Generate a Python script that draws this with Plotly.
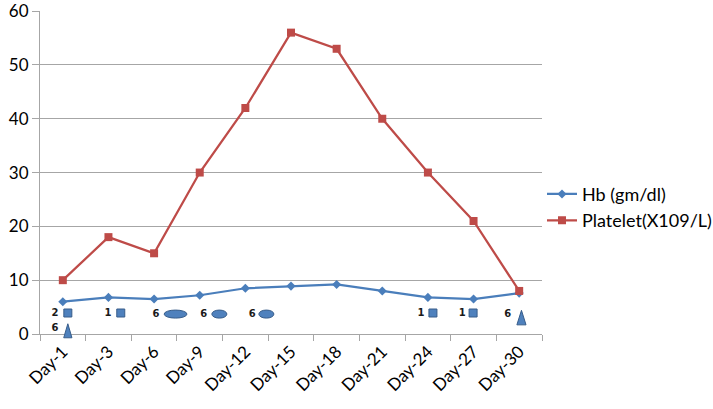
import plotly.graph_objects as go

days = ["Day-1", "Day-3", "Day-6", "Day-9", "Day-12", "Day-15", "Day-18",
        "Day-21", "Day-24", "Day-27", "Day-30"]
hb = [6.0, 6.8, 6.5, 7.2, 8.5, 8.9, 9.2, 8.0, 6.8, 6.5, 7.6]
platelet = [10, 18, 15, 30, 42, 56, 53, 40, 30, 21, 8]
y_ticks = [0, 10, 20, 30, 40, 50, 60]
Y_MAX = 60.02

# small drawn symbols (positions in category-index units / y values)
sq_x = [0.11, 1.27, 8.11, 8.99]
sq_y = [3.9, 3.9, 3.9, 3.9]
ell_x = [2.47, 3.43, 4.46]
ell_w = [0.50, 0.33, 0.33]
ell_y = [3.7, 3.7, 3.7]
ell_h = [1.5, 1.5, 1.5]
tri_x = [0.11, 10.05]
tri_w = [0.18, 0.20]
tri_bottom = [-0.7, 1.7]
tri_top = [1.9, 4.4]
lab_x = [-0.17, -0.17, 0.99, 2.04, 3.09, 4.15, 7.85, 8.75, 9.75]
lab_y = [3.9, 0.95, 3.9, 3.7, 3.7, 3.7, 3.9, 3.9, 3.7]
lab_text = ["2", "6", "1", "6", "6", "6", "1", "1", "6"]

BLUE = "#4A7EBB"
RED = "#BE4B48"
SHAPE_FILL = "#4F81BD"
SHAPE_LINE = "#385D8A"
GRID = "#A6A6A6"
FONT = "Lato"
N = len(days)

fig = go.Figure()
fig.add_trace(go.Scatter(x=days, y=hb, name="Hb (gm/dl)", mode="lines+markers",
                         line=dict(color=BLUE, width=2.25),
                         marker=dict(symbol="diamond", size=7, color=BLUE)))
fig.add_trace(go.Scatter(x=days, y=platelet, name="Platelet(X109/L)", mode="lines+markers",
                         line=dict(color=RED, width=2.25),
                         marker=dict(symbol="square", size=8, color=RED)))
fig.add_trace(go.Scatter(x=sq_x, y=sq_y, xaxis="x2", mode="markers", showlegend=False,
                         marker=dict(symbol="square", size=8, color=SHAPE_FILL,
                                     line=dict(color=SHAPE_LINE, width=1)),
                         hoverinfo="skip"))
fig.add_trace(go.Scatter(x=lab_x, y=lab_y, xaxis="x2", mode="text", text=lab_text,
                         showlegend=False, hoverinfo="skip", cliponaxis=False,
                         textfont=dict(family="DejaVu Sans", size=10, color="#1a1a1a",
                                       weight="bold")))

shapes = []
for cx, w, cy, h in zip(ell_x, ell_w, ell_y, ell_h):
    shapes.append(dict(type="circle", xref="x2", yref="y",
                       x0=cx - w / 2, x1=cx + w / 2, y0=cy - h / 2, y1=cy + h / 2,
                       fillcolor=SHAPE_FILL, line=dict(color=SHAPE_LINE, width=1)))


def px_(i):  # category index -> paper x (unclipped)
    return (i + 0.5) / N


def py_(v):  # value -> paper y (unclipped)
    return v / Y_MAX


for cx, w, yb, yt in zip(tri_x, tri_w, tri_bottom, tri_top):
    shapes.append(dict(type="path", xref="paper", yref="paper",
                       path=(f"M {px_(cx - w / 2)} {py_(yb)} L {px_(cx + w / 2)} {py_(yb)} "
                             f"L {px_(cx)} {py_(yt)} Z"),
                       fillcolor=SHAPE_FILL, line=dict(color=SHAPE_LINE, width=1)))

fig.update_layout(
    width=713, height=409,
    margin=dict(l=40, r=171, t=11, b=75, autoexpand=False),
    paper_bgcolor="white", plot_bgcolor="white",
    font=dict(family=FONT, color="#000000"),
    shapes=shapes,
    showlegend=True,
    legend=dict(x=1.0, y=0.49, xanchor="left", yanchor="top",
                font=dict(family=FONT, size=18, color="#000000"),
                tracegroupgap=2, itemwidth=30, bgcolor="rgba(0,0,0,0)"),
    xaxis=dict(type="category", tickangle=-45, showgrid=False, automargin=False,
               showline=True, linecolor=GRID, linewidth=1,
               ticks="outside", tickson="boundaries", ticklen=6, tickcolor=GRID,
               tickfont=dict(family=FONT, size=17, color="#000000"),
               range=[-0.5, N - 0.5]),
    xaxis2=dict(overlaying="x", range=[-0.5, N - 0.5], visible=False),
    yaxis=dict(range=[0, Y_MAX], tickmode="array", tickvals=y_ticks,
               showgrid=True, gridcolor=GRID, gridwidth=1,
               showline=True, linecolor=GRID, linewidth=1, zeroline=False,
               automargin=False, ticklabeloverflow="allow",
               ticks="outside", ticklen=7, tickcolor=GRID,
               tickfont=dict(family=FONT, size=17, color="#000000")),
)

fig.write_html("out.html", config={"displayModeBar": False},
               post_script="document.body.style.margin='0';document.body.style.overflow='hidden';")
